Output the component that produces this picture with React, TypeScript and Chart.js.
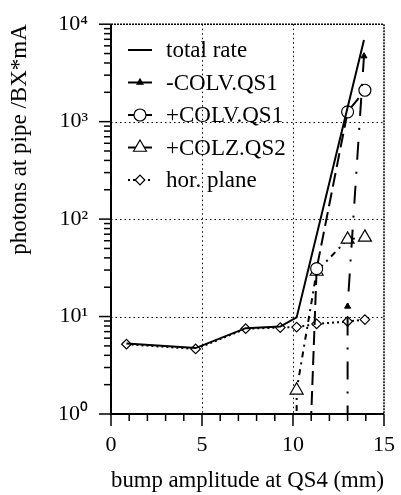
import React, { useEffect, useRef } from 'react';
import { Chart, registerables } from 'chart.js';

Chart.register(...registerables);

const FONT = "'Liberation Serif', 'Times New Roman', Times, serif";

// ---- data ----
const seriesNames = ['total rate', '-COLV.QS1', '+COLV.QS1', '+COLZ.QS2', 'hor. plane'];

const totalX = [0.85, 4.65, 7.4, 9.3, 10.2, 13.9];
const totalY = [5.3, 4.75, 7.6, 7.9, 9.8, 6900];

const colvMinusX = [13.0, 13.0, 13.9];
const colvMinusY = [0.1, 12.7, 4700];

const colvPlusX = [10.9, 11.3, 13.0, 13.95];
const colvPlusY = [0.3, 31, 1260, 2100];

const colzX = [10.2, 10.2, 11.3, 13.0, 13.95];
const colzY = [0.3, 1.75, 29, 62, 65];

const horX = [0.85, 4.65, 7.4, 9.3, 10.2, 11.3, 13.0, 13.95];
const horY = [5.2, 4.65, 7.5, 7.7, 7.8, 8.4, 8.9, 9.3];

const xTickLabels = ['0', '5', '10', '15'];
const yDecades = [1, 10, 100, 1000, 10000];
const yDecadeLabels = ['10⁰', '10¹', '10²', '10³', '10⁴'];
const xGridValues = [5, 10];
const yGridValues = [10, 100, 1000];

const pts = (xs: number[], ys: number[]) => xs.map((x, i) => ({ x, y: ys[i] }));

// ---- decorations: grid, frame, tick marks ----
const axesPlugin = {
  id: 'axesDeco',
  beforeDatasetsDraw(chart: any) {
    const { ctx, chartArea: a, scales } = chart;
    const x = scales.x;
    const y = scales.y;
    ctx.save();
    ctx.strokeStyle = '#000';
    // dotted grid
    ctx.lineWidth = 1;
    ctx.setLineDash([1.5, 3]);
    for (const v of xGridValues) {
      const px = Math.round(x.getPixelForValue(v)) + 0.5;
      ctx.beginPath(); ctx.moveTo(px, a.top); ctx.lineTo(px, a.bottom); ctx.stroke();
    }
    for (const v of yGridValues) {
      const py = Math.round(y.getPixelForValue(v)) + 0.5;
      ctx.beginPath(); ctx.moveTo(a.left, py); ctx.lineTo(a.right, py); ctx.stroke();
    }
    // top & right border (dense dotted)
    ctx.lineWidth = 1.5;
    ctx.setLineDash([2, 1]);
    ctx.beginPath(); ctx.moveTo(a.left, a.top); ctx.lineTo(a.right, a.top); ctx.lineTo(a.right, a.bottom); ctx.stroke();
    // left & bottom axes
    ctx.setLineDash([]);
    ctx.lineWidth = 2;
    ctx.beginPath(); ctx.moveTo(a.left, a.top); ctx.lineTo(a.left, a.bottom); ctx.lineTo(a.right, a.bottom); ctx.stroke();
    // x ticks
    ctx.lineWidth = 1.5;
    for (let v = x.min; v <= x.max; v += 1) {
      const px = x.getPixelForValue(v);
      const len = v % 5 === 0 ? 12 : 7;
      ctx.beginPath(); ctx.moveTo(px, a.bottom); ctx.lineTo(px, a.bottom + len); ctx.stroke();
    }
    // y ticks
    for (let d = 0; d < yDecades.length; d++) {
      for (let m = 1; m <= 9; m++) {
        const v = yDecades[d] * m;
        if (v > y.max) break;
        const py = y.getPixelForValue(v);
        const len = m === 1 ? 12 : 7;
        ctx.beginPath(); ctx.moveTo(a.left - len, py); ctx.lineTo(a.left, py); ctx.stroke();
      }
    }
    ctx.restore();
  },
};

// ---- legend ----
function drawMarker(ctx: CanvasRenderingContext2D, style: string, cx: number, cy: number, r: number, filled: boolean) {
  ctx.save();
  ctx.setLineDash([]);
  ctx.beginPath();
  if (style === 'circle') {
    ctx.arc(cx, cy, r, 0, Math.PI * 2);
  } else if (style === 'triangle') {
    for (let k = 0; k < 3; k++) {
      const ang = (k * 2 * Math.PI) / 3;
      const px = cx + Math.sin(ang) * r;
      const py = cy - Math.cos(ang) * r;
      if (k === 0) ctx.moveTo(px, py); else ctx.lineTo(px, py);
    }
    ctx.closePath();
  } else if (style === 'rectRot') {
    ctx.moveTo(cx - r, cy); ctx.lineTo(cx, cy - r); ctx.lineTo(cx + r, cy); ctx.lineTo(cx, cy + r); ctx.closePath();
  }
  ctx.fillStyle = filled ? '#000' : '#fff';
  ctx.fill();
  ctx.lineWidth = 1.2;
  ctx.strokeStyle = '#000';
  ctx.stroke();
  ctx.restore();
}

const legendPlugin = {
  id: 'customLegend',
  afterDatasetsDraw(chart: any) {
    const { ctx } = chart;
    const x0 = 128, x1 = 152, tx = 166;
    const rowY0 = 50, rowStep = 32.5;
    ctx.save();
    chart.data.datasets.forEach((ds: any, i: number) => {
      const cy = rowY0 + i * rowStep;
      ctx.strokeStyle = '#000';
      ctx.lineWidth = 2;
      ctx.setLineDash(ds.legendDash || []);
      ctx.beginPath(); ctx.moveTo(x0, cy); ctx.lineTo(x1, cy); ctx.stroke();
      if (ds.legendMarker) {
        drawMarker(ctx, ds.pointStyle, (x0 + x1) / 2, cy, ds.legendMarker, ds.pointBackgroundColor === '#000');
      }
      ctx.setLineDash([]);
      ctx.fillStyle = '#000';
      ctx.font = `23px ${FONT}`;
      ctx.textAlign = 'left';
      ctx.textBaseline = 'middle';
      ctx.fillText(ds.label, tx, cy + 1);
    });
    ctx.restore();
  },
};

export default function App() {
  const ref = useRef<HTMLCanvasElement>(null);

  useEffect(() => {
    const canvas = ref.current!;
    const chart = new Chart(canvas, {
      type: 'line',
      data: {
        datasets: [
          {
            label: seriesNames[0],
            data: pts(totalX, totalY),
            borderColor: '#000',
            borderWidth: 2,
            pointRadius: 0,
            legendDash: [],
            legendMarker: 0,
          } as any,
          {
            label: seriesNames[1],
            data: pts(colvMinusX, colvMinusY),
            borderColor: '#000',
            borderWidth: 2,
            borderDash: [18, 12, 2, 12],
            pointStyle: 'triangle',
            pointRadius: [0, 3.5, 3.5],
            pointBackgroundColor: '#000',
            pointBorderColor: '#000',
            pointBorderWidth: 1,
            legendDash: [],
            legendMarker: 3.5,
          } as any,
          {
            label: seriesNames[2],
            data: pts(colvPlusX, colvPlusY),
            borderColor: '#000',
            borderWidth: 2,
            borderDash: [14, 6],
            pointStyle: 'circle',
            pointRadius: [0, 6, 6, 6],
            pointBackgroundColor: '#fff',
            pointBorderColor: '#000',
            pointBorderWidth: 1.2,
            legendDash: [],
            legendMarker: 6,
          } as any,
          {
            label: seriesNames[3],
            data: pts(colzX, colzY),
            borderColor: '#000',
            borderWidth: 2,
            borderDash: [6, 5, 2, 5],
            pointStyle: 'triangle',
            pointRadius: [0, 7.5, 7.5, 7.5, 7.5],
            pointBackgroundColor: '#fff',
            pointBorderColor: '#000',
            pointBorderWidth: 1.2,
            legendDash: [],
            legendMarker: 7.5,
          } as any,
          {
            label: seriesNames[4],
            data: pts(horX, horY),
            borderColor: '#000',
            borderWidth: 2,
            borderDash: [2, 3],
            pointStyle: 'rectRot',
            pointRadius: 4.8,
            pointBackgroundColor: '#fff',
            pointBorderColor: '#000',
            pointBorderWidth: 1.2,
            legendDash: [2, 3],
            legendMarker: 4.8,
          } as any,
        ],
      },
      options: {
        responsive: false,
        animation: false,
        events: [],
        layout: { padding: { top: 19, right: 9, left: 0, bottom: 0 } },
        plugins: { legend: { display: false }, tooltip: { enabled: false } },
        scales: {
          x: {
            type: 'linear',
            min: 0,
            max: 15,
            afterFit: (s: any) => { s.height = 81; },
            grid: { display: true, drawOnChartArea: false, drawTicks: true, tickLength: 12, color: 'rgba(0,0,0,0)' },
            border: { display: false },
            ticks: {
              stepSize: 5,
              padding: 6,
              color: '#000',
              font: { family: FONT, size: 22 },
              maxRotation: 0,
              callback: (v: any) => {
                const idx = [0, 5, 10, 15].indexOf(Number(v));
                return idx >= 0 ? xTickLabels[idx] : '';
              },
            },
            title: {
              display: true,
              text: 'bump amplitude at QS4 (mm)',
              color: '#000',
              font: { family: FONT, size: 23 },
              padding: { top: 0, bottom: 0 },
            },
          },
          y: {
            type: 'logarithmic',
            min: 1,
            max: 10000,
            afterFit: (s: any) => { s.width = 111; },
            grid: { display: true, drawOnChartArea: false, drawTicks: true, tickLength: 12, color: 'rgba(0,0,0,0)' },
            border: { display: false },
            ticks: {
              autoSkip: false,
              padding: 11,
              color: '#000',
              font: { family: FONT, size: 22 },
              callback: (v: any) => {
                const idx = yDecades.indexOf(Number(v));
                return idx >= 0 ? yDecadeLabels[idx] : '';
              },
            },
            title: {
              display: true,
              text: 'photons at pipe /BX*mA',
              align: 'end',
              color: '#000',
              font: { family: FONT, size: 23 },
              padding: { top: 6, bottom: 0 },
            },
          },
        },
      } as any,
      plugins: [axesPlugin, legendPlugin],
    });
    return () => chart.destroy();
  }, []);

  return (
    <div style={{ position: 'fixed', left: 0, top: 0, width: 401, height: 495, background: '#fff' }}>
      <canvas ref={ref} width={401} height={495} style={{ display: 'block', width: 401, height: 495 }} />
    </div>
  );
}
